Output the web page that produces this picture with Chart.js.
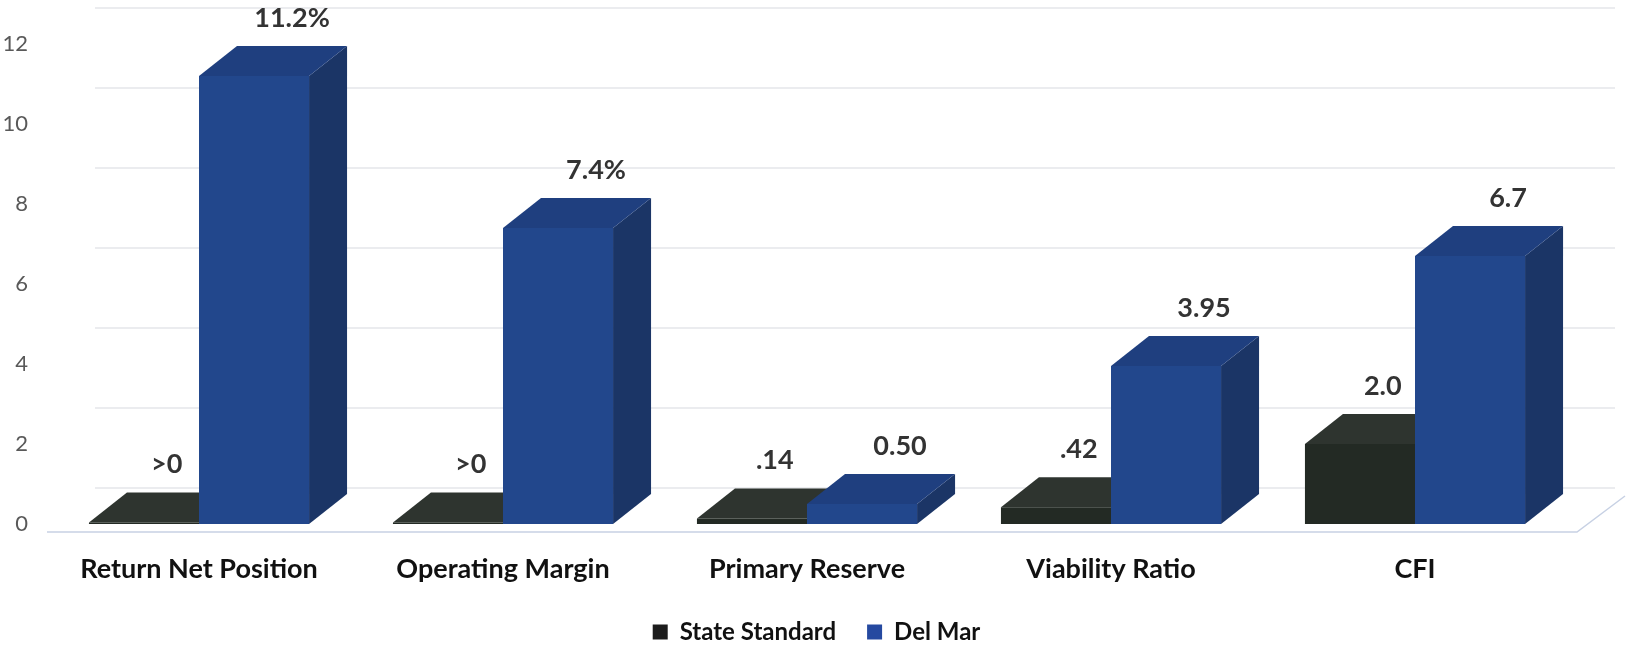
<!DOCTYPE html>
<html>
<head>
<meta charset="utf-8">
<title>State Standard vs Del Mar</title>
<script src="https://cdn.jsdelivr.net/npm/chart.js@4.4.0/dist/chart.umd.min.js"></script>
<style>
  html, body { margin: 0; padding: 0; background: #ffffff; }
  canvas { display: block; }
</style>
</head>
<body>
<canvas id="ratioChart" width="1632" height="647"></canvas>
<script>
// ------------------------------------------
// data
// ------------------------------------------
const categories = ['Return Net Position', 'Operating Margin', 'Primary Reserve', 'Viability Ratio', 'CFI'];
const stateStandard = [0.04, 0.04, 0.14, 0.42, 2.0];
const delMar = [11.2, 7.4, 0.50, 3.95, 6.7];
const stateLabels = ['>0', '>0', '.14', '.42', '2.0'];
const delMarLabels = ['11.2%', '7.4%', '0.50', '3.95', '6.7'];
const yTicks = [0, 2, 4, 6, 8, 10, 12];

// ------------------------------------------
// look of the fake 3D
// ------------------------------------------
const DEPTH_X = 38, DEPTH_Y = -30;   // bar extrusion
const WALL_X = 48, WALL_Y = -36;     // back wall offset for gridlines

const FACES = [
    { front: '#232a24', top: '#2e342f', side: '#1b201c' },  // State Standard
    { front: '#22478c', top: '#1f3f7f', side: '#1b3566' }   // Del Mar
];
const FONT = 'Lato, "Open Sans", sans-serif';

function poly(ctx, pts, fill) {
    ctx.beginPath();
    ctx.moveTo(pts[0][0], pts[0][1]);
    for (let i = 1; i < pts.length; i++) ctx.lineTo(pts[i][0], pts[i][1]);
    ctx.closePath();
    ctx.fillStyle = fill;
    ctx.fill();
}

const fake3d = {
    id: 'fake3d',
    afterLayout(chart) {
        // legend sits centred on the whole page, not on the plot
        const lg = chart.legend;
        lg.left += 31;
        lg.right += 31;
    },
    beforeDatasetsDraw(chart) {
        const ctx = chart.ctx;
        const { left, right } = chart.chartArea;
        const y = chart.scales.y;
        const y0 = y.getPixelForValue(0);
        ctx.save();

        // back wall gridlines
        ctx.strokeStyle = '#e4e6ea';
        ctx.lineWidth = 1.5;
        yTicks.forEach(v => {
            const py = y.getPixelForValue(v) + WALL_Y;
            ctx.beginPath();
            ctx.moveTo(left + WALL_X, py);
            ctx.lineTo(right + WALL_X, py);
            ctx.stroke();
        });

        // floor edges
        ctx.strokeStyle = '#c7d1e4';
        ctx.lineWidth = 1.5;
        ctx.beginPath();
        ctx.moveTo(left, y0 + 8);
        ctx.lineTo(right + 10, y0 + 8);
        ctx.lineTo(right + 10 + WALL_X, y0 + 8 + WALL_Y);
        ctx.stroke();

        // top and side faces, dark series first so blue covers it
        chart.data.datasets.forEach((ds, di) => {
            const meta = chart.getDatasetMeta(di);
            meta.data.forEach(bar => {
                const p = bar.getProps(['x', 'y', 'base', 'width'], true);
                const l = p.x - p.width / 2, r = p.x + p.width / 2;
                poly(ctx, [[r, p.y], [r + DEPTH_X, p.y + DEPTH_Y], [r + DEPTH_X, p.base + DEPTH_Y], [r, p.base]], FACES[di].side);
                poly(ctx, [[l, p.y], [l + DEPTH_X, p.y + DEPTH_Y], [r + DEPTH_X, p.y + DEPTH_Y], [r, p.y]], FACES[di].top);
            });
        });
        ctx.restore();
    },
    afterDatasetsDraw(chart) {
        const ctx = chart.ctx;
        const texts = [stateLabels, delMarLabels];
        ctx.save();
        ctx.font = 'bold 27px ' + FONT;
        ctx.fillStyle = '#333333';
        ctx.textAlign = 'center';
        ctx.textBaseline = 'middle';
        chart.data.datasets.forEach((ds, di) => {
            chart.getDatasetMeta(di).data.forEach((bar, i) => {
                const shift = di === 1 ? DEPTH_X : DEPTH_X * 0.6;
                ctx.fillText(texts[di][i], bar.x + shift, bar.y + DEPTH_Y - 28);
            });
        });
        ctx.restore();
    }
};

const ctx = document.getElementById('ratioChart').getContext('2d');
const ratioChart = new Chart(ctx, {
    type: 'bar',
    data: {
        labels: categories,
        datasets: [
            { label: 'State Standard', data: stateStandard, backgroundColor: FACES[0].front, borderWidth: 0 },
            { label: 'Del Mar', data: delMar, backgroundColor: FACES[1].front, borderWidth: 0 }
        ]
    },
    options: {
        responsive: false,
        animation: false,
        datasets: { bar: { categoryPercentage: 0.724, barPercentage: 1.0 } },
        layout: { padding: { top: 44, left: 4, right: 65, bottom: -7 } },
        plugins: {
            tooltip: { enabled: false },
            legend: {
                position: 'bottom',
                labels: {
                    boxWidth: 15, boxHeight: 15, padding: 31,
                    color: '#111111',
                    font: { family: FONT, size: 24, weight: 'bold' },
                    generateLabels: chart => chart.data.datasets.map((ds, i) => ({
                        text: ds.label,
                        fillStyle: i === 0 ? '#1c1c1c' : '#2549a0',
                        strokeStyle: 'transparent',
                        lineWidth: 0,
                        fontColor: '#111111',
                        datasetIndex: i
                    }))
                }
            }
        },
        scales: {
            x: {
                afterFit: s => { s.height = 65; },
                grid: { display: false, drawTicks: false },
                border: { display: false },
                ticks: { color: '#111111', padding: 29, font: { family: FONT, size: 27, weight: 'bold' } }
            },
            y: {
                min: 0, max: 12,
                afterFit: s => { s.width = 43; },
                afterBuildTicks: s => { s.ticks = yTicks.map(v => ({ value: v })); },
                grid: { display: false, drawTicks: false },
                border: { display: false },
                ticks: { color: '#595959', padding: 19, font: { family: FONT, size: 22 } }
            }
        }
    },
    plugins: [fake3d]
});
</script>
</body>
</html>
